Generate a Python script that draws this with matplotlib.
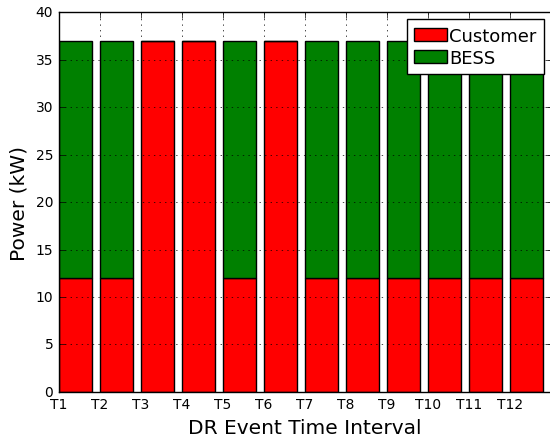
import numpy as np
import matplotlib
matplotlib.use("Agg")
import matplotlib.pyplot as plt

plt.style.use("classic")

intervals = ["T%d" % i for i in range(1, 13)]
customer = [12, 12, 37, 37, 12, 37, 12, 12, 12, 12, 12, 12]
bess = [25, 25, 0, 0, 25, 0, 25, 25, 25, 25, 25, 25]

fig = plt.figure(figsize=(5.5, 4.39), dpi=100, facecolor="white")
ax = fig.add_axes([0.107, 0.105, 0.895, 0.865])

x = np.arange(len(intervals))
ax.bar(x, customer, 0.8, align="edge", color="red", edgecolor="black", label="Customer")
ax.bar(x, bess, 0.8, bottom=customer, align="edge", color="green", edgecolor="black", label="BESS")

ax.set_xlim(0, 12)
ax.set_ylim(0, 40)
ax.set_xticks(x)
ax.set_xticklabels(intervals)
ax.tick_params(labelsize=10)
ax.grid(True, color="black", linestyle=":", linewidth=0.5)

ax.set_xlabel("DR Event Time Interval", fontsize=14.5)
ax.set_ylabel("Power (kW)", fontsize=14.5)
ax.legend(loc="upper right", fontsize=13, handlelength=1.8, handletextpad=0.15,
          borderpad=0.4, borderaxespad=0.4, labelspacing=0.25)

fig.savefig("out.png", dpi=100, facecolor="white")
